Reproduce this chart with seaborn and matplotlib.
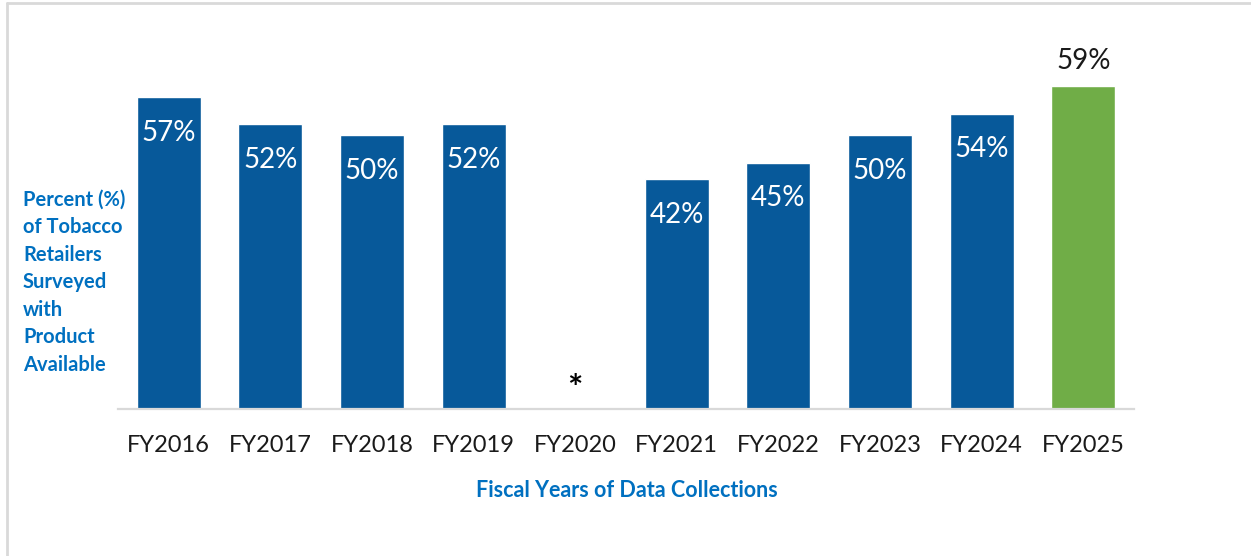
import numpy as np
import pandas as pd
import matplotlib
matplotlib.use("Agg")
import matplotlib.pyplot as plt
import seaborn as sns

# data
years = ["FY2016", "FY2017", "FY2018", "FY2019", "FY2020",
         "FY2021", "FY2022", "FY2023", "FY2024", "FY2025"]
percent = [57, 52, 50, 52, np.nan, 42, 45, 50, 54, 59]
missing_mark = "*"

blue = "#07599A"
green = "#70AD47"
label_blue = "#0070C0"
grey = "#D9D9D9"

sns.set_style("white")
plt.rcParams["font.family"] = ["Lato", "DejaVu Sans"]

df = pd.DataFrame({"year": years, "pct": percent})
palette = {y: blue for y in years}
palette[years[-1]] = green

fig = plt.figure(figsize=(12.51, 5.56), dpi=100)
ax = fig.add_axes([0.0943, 0.2644, 0.8122, 0.6888])

sns.barplot(data=df, x="year", y="pct", hue="year", palette=palette,
            order=years, hue_order=years, width=0.63, dodge=False,
            legend=False, errorbar=None, saturation=1, ax=ax)

ax.set_xlim(-0.5, len(years) - 0.5)
ax.set_ylim(0, 70)

# value labels
for i, v in enumerate(percent):
    if np.isnan(v):
        ax.text(i, 3.6, missing_mark, ha="center", va="center",
                fontsize=26, fontweight="bold", color="black")
    elif i == len(percent) - 1:
        ax.text(i, v + 4.6, f"{v:.0f}%", ha="center", va="center",
                fontsize=20, color="#1a1a1a")
    else:
        ax.text(i, v - 6.5, f"{v:.0f}%", ha="center", va="center",
                fontsize=20, color="white")

for s in ["top", "right", "left"]:
    ax.spines[s].set_visible(False)
ax.spines["bottom"].set_color(grey)
ax.spines["bottom"].set_linewidth(1.6)
ax.set_yticks([])
ax.tick_params(axis="x", length=0, pad=19, labelsize=17, labelcolor="#1a1a1a")
ax.set_xlabel("")
ax.set_ylabel("")

fig.text(0.5012, 0.118, "Fiscal Years of Data Collections", ha="center",
         va="center", fontsize=15.5, fontweight="bold", color=label_blue)
fig.text(0.0184, 0.492,
         "Percent (%)\nof Tobacco\nRetailers\nSurveyed\nwith\nProduct\nAvailable",
         ha="left", va="center", fontsize=14.5, fontweight="bold",
         color=label_blue, linespacing=1.47)

# frame of the original slide (left and top edges visible)
fig.add_artist(plt.Line2D([0.0056, 0.0056], [0, 0.9946], color=grey, lw=2,
                          transform=fig.transFigure))
fig.add_artist(plt.Line2D([0.0056, 1], [0.9946, 0.9946], color=grey, lw=2,
                          transform=fig.transFigure))

fig.savefig("out.png", dpi=100)
